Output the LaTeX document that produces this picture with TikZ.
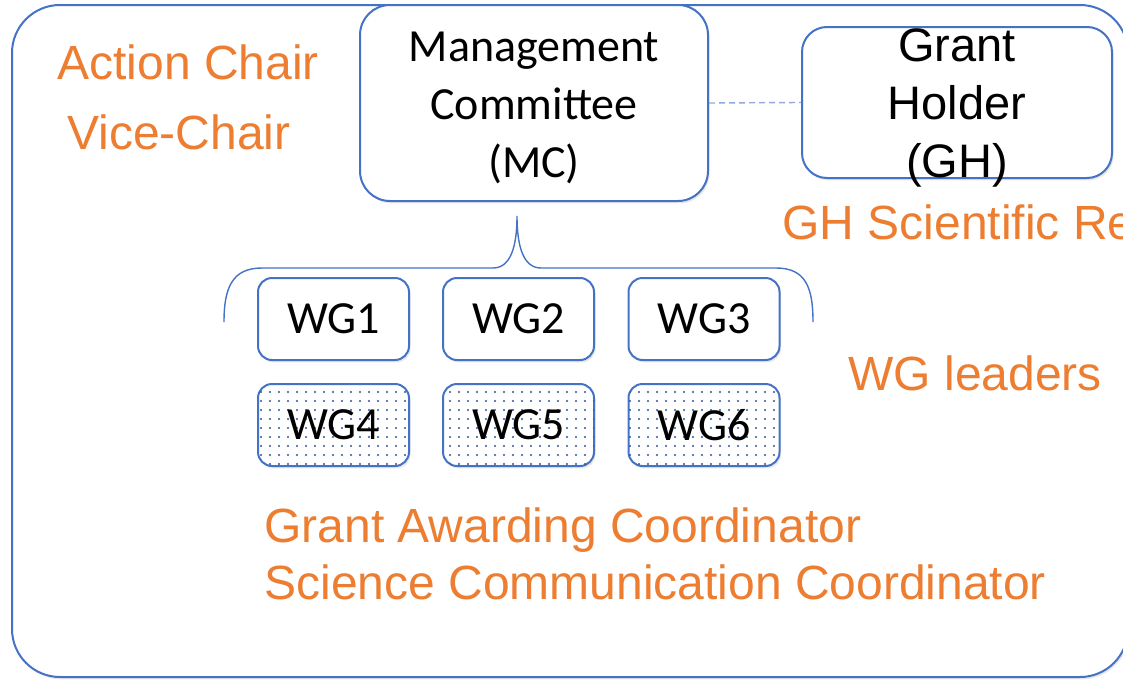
\documentclass[tikz,border=0pt]{standalone}
\usepackage{fontspec}
\setmainfont{Liberation Sans}
\newfontfamily\calibrifont{Carlito}
\usetikzlibrary{patterns.meta,shadows}
\definecolor{boxblue}{HTML}{4472C4}
\definecolor{lightblue}{HTML}{8FAADC}
\definecolor{dotblue}{HTML}{2F5597}
\definecolor{officeorange}{HTML}{ED7D31}
\tikzset{
  softshadow/.style={drop shadow={opacity=0.18, shadow xshift=0.8pt, shadow yshift=-1.2pt}},
  boxnode/.style={draw=boxblue, line width=1pt, fill=white, softshadow, inner sep=0pt},
  mcbox/.style={boxnode, rounded corners=15pt, minimum width=174pt, minimum height=98pt},
  mctext/.style={align=center, inner sep=0pt, font=\calibrifont\fontsize{23}{29}\selectfont},
  ghbox/.style={boxnode, rounded corners=12.5pt, minimum width=155pt, minimum height=75.5pt},
  ghtext/.style={align=center, inner sep=0pt, font=\fontsize{23.5}{29}\selectfont},
  wgbox/.style={boxnode, rounded corners=7pt, minimum width=75.5pt, minimum height=41pt,
    font=\calibrifont\fontsize{23}{27}\selectfont},
  wgdots/.style={wgbox, postaction={pattern={Dots[distance=4.5pt,radius=0.55pt]}, pattern color=dotblue}},
  roletext/.style={text=officeorange, inner sep=0pt, anchor=base west, font=\fontsize{24}{28}\selectfont},
  linkline/.style={draw=lightblue, line width=0.7pt, dash pattern=on 3pt off 2pt},
  bracestyle/.style={draw=boxblue, line width=0.7pt},
}
\begin{document}
\begin{tikzpicture}[x=0.5pt, y=-0.5pt]
\useasboundingbox (0,0) rectangle (1123,680);
\clip (0,0) rectangle (1123,680);
% outer frame
\draw[draw=boxblue, line width=1pt, rounded corners=24pt, fill=white, softshadow] (12,5) rectangle (1128,677);
% management committee
\node[mcbox] (mc) at (534,103) {};
\node[mctext] (mclabel) at (534,108) {Management\\Committee\\(MC)};
% grant holder
\node[ghbox] (gh) at (957,102.5) {};
\node[ghtext] (ghlabel) at (957,108) {Grant\\Holder\\(GH)};
\draw[linkline] (mc.east) -- (gh.west);
% working groups
\node[wgbox] (wg1) at (333.5,319) {WG1};
\node[wgbox] (wg2) at (518.5,319) {WG2};
\node[wgbox] (wg3) at (704,319) {WG3};
\node[wgdots] (wg4) at (333.5,425) {WG4};
\node[wgdots] (wg5) at (518.5,425) {WG5};
\node[wgdots] (wg6) at (704,425) {WG6};
% brace
\coordinate (bracetip) at (517,216);
\coordinate (braceleft) at (224,322);
\coordinate (braceright) at (813,322);
\draw[bracestyle] (braceleft) .. controls (224,288) and (232,268) .. (262,268) -- (493,268)
  .. controls (510,268) and (517,248) .. (bracetip)
  .. controls (517,248) and (524,268) .. (541,268) -- (776,268)
  .. controls (806,268) and (813,288) .. (braceright);
% role labels
\node[roletext] (chair) at (57,79) {Action Chair};
\node[roletext] (vice) at (67,149) {Vice-Chair};
\node[roletext] (ghsr) at (782,239) {GH Scientific Representative};
\node[roletext] (wgl) at (848,390) {WG leaders};
\node[roletext] (gac) at (264,542) {Grant Awarding Coordinator};
\node[roletext] (scc) at (264,599) {Science Communication Coordinator};
\end{tikzpicture}
\end{document}
